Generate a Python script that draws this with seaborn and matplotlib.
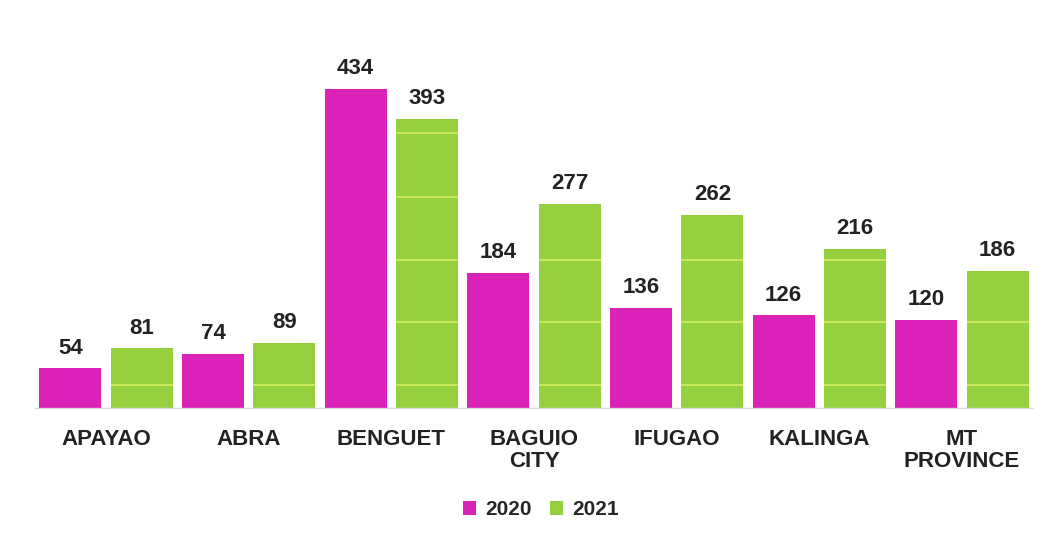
import pandas as pd
import matplotlib.pyplot as plt
import seaborn as sns

provinces = ["APAYAO", "ABRA", "BENGUET", "BAGUIO\nCITY", "IFUGAO", "KALINGA", "MT\nPROVINCE"]
cases_2020 = [54, 74, 434, 184, 136, 126, 120]
cases_2021 = [81, 89, 393, 277, 262, 216, 186]
years = ["2020", "2021"]

df = pd.DataFrame({
    "province": provinces * 2,
    "year": [years[0]] * len(provinces) + [years[1]] * len(provinces),
    "cases": cases_2020 + cases_2021,
})

sns.set_style("white")
plt.rcParams["font.family"] = ["Liberation Sans", "DejaVu Sans"]

colors = {"2020": "#DA22B8", "2021": "#95D13F"}

fig = plt.figure(figsize=(10.45, 5.4), dpi=100)
ax = fig.add_axes([0.0332, 0.2444, 0.9556, 0.6815])
sns.barplot(data=df, x="province", y="cases", hue="year", palette=colors,
            width=1.0, gap=0.13, ax=ax, saturation=1, linewidth=0)

# faint yellow grid lines that only show through the green bars
grid_vals = [31, 117, 201, 287, 373]
green_bars = ax.containers[1]
for bar in green_bars:
    for g in grid_vals:
        if g < bar.get_height():
            ln = ax.axhline(g, color="#D8F060", lw=1.2, alpha=0.9, zorder=3)
            ln.set_clip_path(bar)

for cont in ax.containers:
    ax.bar_label(cont, padding=7, fontsize=16, fontweight="bold", color="#222222")

ax.set_ylim(0, 500)
ax.set_xlim(-0.5, 6.5)
ax.set_yticks([])
ax.set_xlabel("")
ax.set_ylabel("")
for s in ["top", "right", "left"]:
    ax.spines[s].set_visible(False)
ax.spines["bottom"].set_color("#D9D9D9")
ax.spines["bottom"].set_linewidth(1)
ax.tick_params(axis="x", length=0, pad=15)
for lbl in ax.get_xticklabels():
    lbl.set_fontsize(16)
    lbl.set_fontweight("bold")
    lbl.set_color("#222222")
    lbl.set_linespacing(1.05)

ax.legend(loc="upper center", bbox_to_anchor=(0.507, -0.20), ncol=2, frameon=False,
          prop={"size": 15, "weight": "bold"}, handlelength=0.6, handleheight=0.6,
          handletextpad=0.45, columnspacing=0.9)

plt.savefig("out.png", dpi=100)
